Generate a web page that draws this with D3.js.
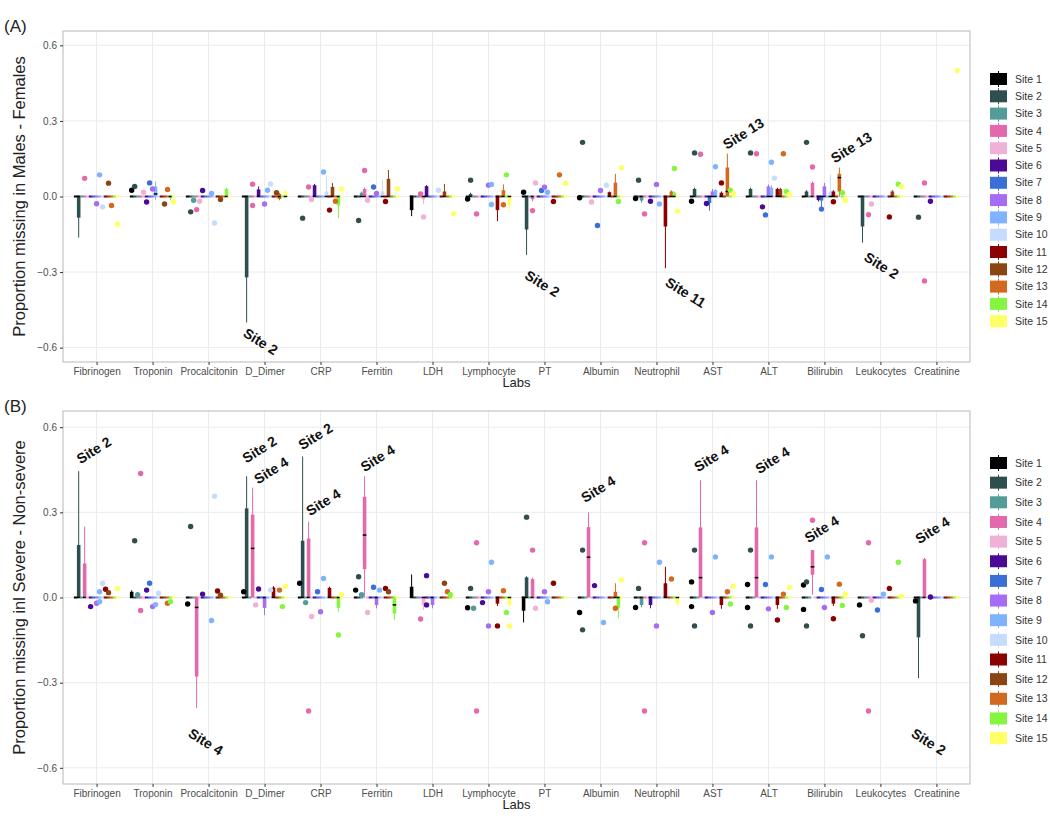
<!DOCTYPE html>
<html>
<head>
<meta charset="utf-8">
<script src="https://cdn.jsdelivr.net/npm/d3@7"></script>
<style>
  body { margin: 0; background: #fff; }
  svg text { font-family: "Liberation Sans", Arial, sans-serif; }
</style>
</head>
<body>
<svg id="chart" width="1050" height="831"></svg>
<script>
const labs = ['Fibrinogen', 'Troponin', 'Procalcitonin', 'D_Dimer', 'CRP', 'Ferritin', 'LDH',
  'Lymphocyte', 'PT', 'Albumin', 'Neutrophil', 'AST', 'ALT', 'Bilirubin', 'Leukocytes', 'Creatinine'];
const sites = d3.range(1, 16);
const siteColors = ['#000000', '#2f4f4f', '#539c99', '#e469ac', '#efb1d8', '#4b0a96', '#3b6fd8',
  '#a56cf5', '#80b3ff', '#c6dcff', '#8b0000', '#8b4513', '#d2691e', '#85f542', '#ffff66'];
const yTicks = [-0.6, -0.3, 0, 0.3, 0.6];

// boxes: [lab, site, lower whisker, q1, median, q3, upper whisker]
const boxesA = [
  ['Fibrinogen', 2, -0.163, -0.088, 0, 0, 0],
  ['Troponin', 9, -0.015, 0, 0.01, 0.04, 0.06],
  ['Troponin', 14, -0.015, -0.01, 0, 0, 0],
  ['Procalcitonin', 14, 0, 0, 0, 0.03, 0.035],
  ['D_Dimer', 2, -0.5, -0.325, 0, 0, 0],
  ['D_Dimer', 6, 0, 0, 0, 0.028, 0.04],
  ['D_Dimer', 13, -0.015, -0.01, 0, 0.01, 0.015],
  ['D_Dimer', 15, 0, 0, 0, 0.02, 0.025],
  ['CRP', 6, 0, 0, 0, 0.045, 0.05],
  ['CRP', 10, 0, 0, 0, 0.02, 0.085],
  ['CRP', 12, 0, 0, 0, 0.038, 0.054],
  ['CRP', 14, -0.085, -0.04, 0, 0, 0],
  ['Ferritin', 3, 0, 0, 0, 0.015, 0.02],
  ['Ferritin', 4, 0, 0, 0, 0.03, 0.035],
  ['Ferritin', 10, 0, 0, 0, 0.02, 0.067],
  ['Ferritin', 12, 0, 0, 0, 0.07, 0.105],
  ['LDH', 1, -0.078, -0.058, 0, 0, 0],
  ['LDH', 5, -0.03, -0.015, 0, 0, 0],
  ['LDH', 6, 0, 0, 0, 0.041, 0.045],
  ['LDH', 12, 0, 0, 0, 0.02, 0.05],
  ['Lymphocyte', 2, 0, 0, 0, 0.01, 0.015],
  ['Lymphocyte', 11, -0.098, -0.058, 0, 0, 0],
  ['Lymphocyte', 13, 0, 0, 0, 0.025, 0.048],
  ['Lymphocyte', 15, -0.058, -0.04, 0, 0, 0],
  ['PT', 2, -0.232, -0.135, 0, 0, 0],
  ['PT', 4, -0.02, -0.015, 0, 0, 0],
  ['Albumin', 11, 0, 0, 0, 0.017, 0.02],
  ['Albumin', 13, 0, 0, 0, 0.055, 0.09],
  ['Neutrophil', 3, -0.025, -0.02, 0, 0, 0],
  ['Neutrophil', 11, -0.285, -0.123, 0, 0, 0],
  ['Neutrophil', 13, 0, 0, 0, 0.02, 0.025],
  ['Neutrophil', 14, 0, 0, 0, 0.015, 0.02],
  ['AST', 2, 0, 0, 0, 0.03, 0.035],
  ['AST', 7, -0.056, -0.03, 0, 0, 0],
  ['AST', 8, 0, 0, 0, 0.02, 0.03],
  ['AST', 9, 0, 0, 0, 0.025, 0.03],
  ['AST', 11, 0, 0, 0, 0.015, 0.02],
  ['AST', 13, 0, 0, 0.02, 0.115, 0.17],
  ['ALT', 2, 0, 0, 0, 0.03, 0.035],
  ['ALT', 8, 0, 0, 0, 0.04, 0.048],
  ['ALT', 9, 0, 0, 0, 0.035, 0.045],
  ['ALT', 11, 0, 0, 0, 0.03, 0.035],
  ['ALT', 12, 0, 0, 0, 0.03, 0.035],
  ['Bilirubin', 2, 0, 0, 0, 0.02, 0.025],
  ['Bilirubin', 4, 0, 0, 0, 0.054, 0.06],
  ['Bilirubin', 6, -0.02, -0.018, 0, 0, 0],
  ['Bilirubin', 7, -0.056, -0.02, 0, 0, 0],
  ['Bilirubin', 8, 0, 0, 0, 0.04, 0.054],
  ['Bilirubin', 10, 0, 0, 0, 0.02, 0.087],
  ['Bilirubin', 11, 0, 0, 0, 0.02, 0.025],
  ['Bilirubin', 13, 0, 0.02, 0.075, 0.09, 0.115],
  ['Leukocytes', 2, -0.183, -0.123, 0, 0, 0],
  ['Leukocytes', 12, 0, 0, 0, 0.02, 0.025]
];

// outlier points: [lab, site, value]
const pointsA = [
  ['Fibrinogen', 4, 0.072], ['Fibrinogen', 9, 0.086], ['Fibrinogen', 8, -0.029], ['Fibrinogen', 10, -0.041],
  ['Fibrinogen', 12, 0.053], ['Fibrinogen', 13, -0.036], ['Fibrinogen', 15, -0.11],
  ['Troponin', 1, 0.025], ['Troponin', 2, 0.04], ['Troponin', 5, 0.017], ['Troponin', 7, 0.054],
  ['Troponin', 8, 0.03], ['Troponin', 6, -0.022], ['Troponin', 13, 0.028], ['Troponin', 12, -0.03],
  ['Troponin', 15, -0.022],
  ['Procalcitonin', 2, -0.061], ['Procalcitonin', 3, -0.015], ['Procalcitonin', 4, -0.052],
  ['Procalcitonin', 5, -0.019], ['Procalcitonin', 6, 0.024], ['Procalcitonin', 10, -0.105],
  ['Procalcitonin', 12, -0.012], ['Procalcitonin', 9, 0.012],
  ['D_Dimer', 4, 0.049], ['D_Dimer', 4, -0.036], ['D_Dimer', 8, -0.03], ['D_Dimer', 9, 0.025],
  ['D_Dimer', 10, 0.05], ['D_Dimer', 12, 0.015],
  ['CRP', 2, -0.086], ['CRP', 4, 0.038], ['CRP', 5, -0.012], ['CRP', 9, 0.097], ['CRP', 13, -0.019],
  ['CRP', 11, -0.054], ['CRP', 15, 0.03],
  ['Ferritin', 2, -0.095], ['Ferritin', 4, 0.103], ['Ferritin', 5, -0.015], ['Ferritin', 7, 0.038],
  ['Ferritin', 8, 0.012], ['Ferritin', 11, -0.02], ['Ferritin', 15, 0.03],
  ['LDH', 4, 0.01], ['LDH', 5, -0.081], ['LDH', 10, 0.025], ['LDH', 15, -0.068],
  ['Lymphocyte', 1, -0.01], ['Lymphocyte', 2, 0.065], ['Lymphocyte', 4, -0.069], ['Lymphocyte', 8, 0.045],
  ['Lymphocyte', 9, -0.032], ['Lymphocyte', 9, 0.048], ['Lymphocyte', 13, -0.033], ['Lymphocyte', 14, 0.086],
  ['PT', 1, 0.017], ['PT', 4, -0.056], ['PT', 5, 0.054], ['PT', 7, 0.024], ['PT', 8, 0.037], ['PT', 9, 0.017],
  ['PT', 11, -0.02], ['PT', 13, 0.086], ['PT', 15, 0.053],
  ['Albumin', 2, 0.215], ['Albumin', 1, -0.005], ['Albumin', 5, -0.022], ['Albumin', 7, -0.115],
  ['Albumin', 8, 0.024], ['Albumin', 10, 0.045], ['Albumin', 15, 0.114], ['Albumin', 14, -0.02],
  ['Neutrophil', 1, -0.008], ['Neutrophil', 2, 0.065], ['Neutrophil', 4, -0.069], ['Neutrophil', 6, -0.019],
  ['Neutrophil', 8, 0.048], ['Neutrophil', 9, -0.03], ['Neutrophil', 14, 0.111], ['Neutrophil', 15, -0.058],
  ['AST', 2, 0.173], ['AST', 4, 0.168], ['AST', 1, -0.019], ['AST', 6, -0.028], ['AST', 9, 0.118],
  ['AST', 11, 0.054], ['AST', 14, 0.025], ['AST', 15, 0.012],
  ['ALT', 2, 0.173], ['ALT', 4, 0.17], ['ALT', 6, -0.041], ['ALT', 7, -0.073], ['ALT', 9, 0.136],
  ['ALT', 10, 0.073], ['ALT', 13, 0.17], ['ALT', 14, 0.02], ['ALT', 15, 0.008],
  ['Bilirubin', 2, 0.215], ['Bilirubin', 4, 0.117], ['Bilirubin', 7, -0.05], ['Bilirubin', 11, -0.021],
  ['Bilirubin', 14, 0.015], ['Bilirubin', 15, -0.016],
  ['Leukocytes', 4, -0.072], ['Leukocytes', 5, -0.03], ['Leukocytes', 11, -0.081], ['Leukocytes', 14, 0.049],
  ['Leukocytes', 15, 0.04],
  ['Creatinine', 2, -0.082], ['Creatinine', 4, 0.054], ['Creatinine', 4, -0.335], ['Creatinine', 6, -0.019],
  ['Creatinine', 15, 0.5]
];

// notes: [lab position (index), value, text, angle]
const notesA = [
  [2.93, -0.576, 'Site 2', 32], [7.96, -0.346, 'Site 2', 32], [10.52, -0.381, 'Site 11', 32],
  [11.55, 0.25, 'Site 13', -32], [13.48, 0.195, 'Site 13', -32], [14.02, -0.274, 'Site 2', 32]
];

const boxesB = [
  ['Fibrinogen', 2, 0, 0, 0, 0.185, 0.445],
  ['Fibrinogen', 4, 0, 0, 0, 0.12, 0.25],
  ['Troponin', 1, 0, 0, 0, 0.02, 0.025],
  ['Procalcitonin', 4, -0.39, -0.282, -0.035, 0, 0],
  ['D_Dimer', 2, 0, 0, 0, 0.314, 0.427],
  ['D_Dimer', 4, 0, 0, 0.173, 0.292, 0.387],
  ['D_Dimer', 8, -0.062, -0.04, 0, 0, 0],
  ['D_Dimer', 11, 0, 0, 0, 0.035, 0.04],
  ['CRP', 2, 0, 0, 0, 0.2, 0.497],
  ['CRP', 4, 0, 0, 0, 0.208, 0.267],
  ['CRP', 11, 0, 0, 0, 0.034, 0.038],
  ['CRP', 14, -0.05, -0.04, 0, 0, 0],
  ['Ferritin', 4, 0, 0.1, 0.22, 0.355, 0.427],
  ['Ferritin', 8, -0.038, -0.03, 0, 0, 0],
  ['Ferritin', 14, -0.08, -0.06, -0.026, 0, 0],
  ['LDH', 1, 0, 0, 0, 0.038, 0.081],
  ['LDH', 5, -0.044, -0.03, 0, 0, 0],
  ['LDH', 8, -0.038, -0.03, 0, 0, 0],
  ['Lymphocyte', 11, -0.03, -0.025, 0, 0, 0],
  ['Lymphocyte', 15, -0.035, -0.03, 0, 0, 0],
  ['PT', 1, -0.088, -0.05, 0, 0, 0],
  ['PT', 2, 0, 0, 0, 0.071, 0.075],
  ['PT', 4, 0, 0, 0, 0.065, 0.07],
  ['Albumin', 4, 0, 0, 0.142, 0.248, 0.3],
  ['Albumin', 13, 0, 0, 0, 0.02, 0.05],
  ['Albumin', 14, -0.073, -0.04, 0, 0, 0],
  ['Neutrophil', 3, -0.035, -0.03, 0, 0, 0],
  ['Neutrophil', 6, -0.038, -0.03, 0, 0, 0],
  ['Neutrophil', 11, 0, 0, 0, 0.05, 0.108],
  ['Neutrophil', 15, -0.03, -0.025, 0, 0, 0],
  ['AST', 4, 0, 0, 0.07, 0.247, 0.413],
  ['AST', 11, -0.04, -0.03, 0, 0, 0],
  ['ALT', 4, 0, 0, 0.07, 0.247, 0.413],
  ['ALT', 11, -0.04, -0.03, 0, 0, 0],
  ['Bilirubin', 4, 0.01, 0.08, 0.108, 0.167, 0.167],
  ['Bilirubin', 11, -0.03, -0.025, 0, 0, 0],
  ['Creatinine', 2, -0.284, -0.144, 0, 0, 0],
  ['Creatinine', 4, 0, 0, 0, 0.135, 0.14]
];

const pointsB = [
  ['Fibrinogen', 6, -0.032], ['Fibrinogen', 8, -0.02], ['Fibrinogen', 9, -0.015], ['Fibrinogen', 10, 0.05],
  ['Fibrinogen', 9, 0.02], ['Fibrinogen', 11, 0.029], ['Fibrinogen', 12, 0.017], ['Fibrinogen', 15, 0.032],
  ['Troponin', 2, 0.2], ['Troponin', 3, 0.01], ['Troponin', 4, 0.437], ['Troponin', 4, -0.046],
  ['Troponin', 6, 0.026], ['Troponin', 7, 0.05], ['Troponin', 8, -0.032], ['Troponin', 9, -0.025],
  ['Troponin', 10, 0.015], ['Troponin', 13, -0.02], ['Troponin', 14, -0.015],
  ['Procalcitonin', 1, -0.023], ['Procalcitonin', 2, 0.25], ['Procalcitonin', 6, 0.012],
  ['Procalcitonin', 9, -0.081], ['Procalcitonin', 10, 0.357], ['Procalcitonin', 11, 0.023],
  ['Procalcitonin', 12, 0.008],
  ['D_Dimer', 1, 0.02], ['D_Dimer', 5, -0.026], ['D_Dimer', 6, 0.03], ['D_Dimer', 10, 0.026],
  ['D_Dimer', 13, 0.026], ['D_Dimer', 14, -0.032], ['D_Dimer', 15, 0.04],
  ['CRP', 1, 0.05], ['CRP', 3, -0.018], ['CRP', 5, -0.067], ['CRP', 4, -0.4], ['CRP', 7, 0.02],
  ['CRP', 8, -0.05], ['CRP', 9, 0.067], ['CRP', 14, -0.132], ['CRP', 15, 0.01],
  ['Ferritin', 1, 0.026], ['Ferritin', 2, 0.073], ['Ferritin', 3, 0.01], ['Ferritin', 5, -0.053],
  ['Ferritin', 7, 0.036], ['Ferritin', 9, 0.026], ['Ferritin', 11, 0.032], ['Ferritin', 12, 0.02],
  ['LDH', 4, -0.076], ['LDH', 6, 0.077], ['LDH', 6, -0.026], ['LDH', 12, 0.05], ['LDH', 13, 0.02],
  ['LDH', 14, 0.01],
  ['Lymphocyte', 1, -0.036], ['Lymphocyte', 2, 0.032], ['Lymphocyte', 3, -0.038], ['Lymphocyte', 4, 0.193],
  ['Lymphocyte', 4, -0.4], ['Lymphocyte', 6, -0.018], ['Lymphocyte', 9, 0.124], ['Lymphocyte', 8, -0.1],
  ['Lymphocyte', 8, 0.02], ['Lymphocyte', 11, -0.1], ['Lymphocyte', 13, 0.024], ['Lymphocyte', 14, -0.053],
  ['Lymphocyte', 15, -0.1],
  ['PT', 2, 0.283], ['PT', 4, 0.167], ['PT', 5, -0.038], ['PT', 8, 0.02], ['PT', 9, -0.015], ['PT', 11, 0.05],
  ['Albumin', 1, -0.053], ['Albumin', 2, 0.167], ['Albumin', 2, -0.114], ['Albumin', 6, 0.042],
  ['Albumin', 9, -0.088], ['Albumin', 13, -0.038], ['Albumin', 15, 0.062],
  ['Neutrophil', 1, -0.035], ['Neutrophil', 2, 0.032], ['Neutrophil', 4, 0.193], ['Neutrophil', 4, -0.4],
  ['Neutrophil', 8, -0.1], ['Neutrophil', 9, 0.124], ['Neutrophil', 13, 0.065],
  ['AST', 1, 0.055], ['AST', 1, -0.032], ['AST', 2, 0.167], ['AST', 2, -0.1], ['AST', 8, -0.053],
  ['AST', 9, 0.143], ['AST', 13, 0.02], ['AST', 14, -0.023], ['AST', 15, 0.04],
  ['ALT', 1, 0.046], ['ALT', 1, -0.035], ['ALT', 2, 0.167], ['ALT', 2, -0.1], ['ALT', 7, 0.046],
  ['ALT', 8, -0.04], ['ALT', 9, 0.143], ['ALT', 11, -0.079], ['ALT', 13, 0.012], ['ALT', 14, -0.035],
  ['ALT', 15, 0.035],
  ['Bilirubin', 1, 0.044], ['Bilirubin', 1, -0.042], ['Bilirubin', 2, 0.055], ['Bilirubin', 2, -0.1],
  ['Bilirubin', 4, 0.272], ['Bilirubin', 7, 0.028], ['Bilirubin', 9, 0.143], ['Bilirubin', 8, -0.035],
  ['Bilirubin', 11, -0.075], ['Bilirubin', 13, 0.047], ['Bilirubin', 14, -0.028], ['Bilirubin', 15, 0.012],
  ['Leukocytes', 1, -0.026], ['Leukocytes', 2, -0.135], ['Leukocytes', 4, 0.193], ['Leukocytes', 4, -0.4],
  ['Leukocytes', 5, -0.01], ['Leukocytes', 7, -0.044], ['Leukocytes', 9, 0.012], ['Leukocytes', 11, 0.032],
  ['Leukocytes', 14, 0.124], ['Leukocytes', 15, 0.005],
  ['Creatinine', 1, -0.012], ['Creatinine', 6, 0.002]
];

const notesB = [
  [-0.05, 0.519, 'Site 2', -32], [2.91, 0.522, 'Site 2', -32], [3.12, 0.448, 'Site 4', -32],
  [3.91, 0.568, 'Site 2', -32], [4.05, 0.336, 'Site 4', -32], [5.02, 0.491, 'Site 4', -32],
  [8.96, 0.382, 'Site 4', -32], [10.98, 0.491, 'Site 4', -32], [12.07, 0.484, 'Site 4', -32],
  [12.95, 0.241, 'Site 4', -32], [14.93, 0.237, 'Site 4', -32],
  [1.95, -0.508, 'Site 4', 32], [14.86, -0.508, 'Site 2', 32]
];

const svg = d3.select('#chart');
const left = 63, right = 970;
const x = d3.scalePoint().domain(labs).range([left, right]).padding(0.6);
const dodge = d3.scaleBand().domain(sites).range([-0.4 * x.step(), 0.4 * x.step()]);
const xIdx = d3.scaleLinear().domain([0, labs.length - 1]).range([x(labs[0]), x(labs[labs.length - 1])]);
const color = d3.scaleOrdinal().domain(sites).range(siteColors);

const panel = (opts) => {
  const { top, bottom, boxes, points, notes, yTitle, tag, legendTop, legendStep } = opts;
  const y = d3.scaleLinear().domain([-0.657, 0.657]).range([bottom, top]);
  const g = svg.append('g');

  // grid
  g.selectAll('.hgrid').data(yTicks).enter().append('line')
    .attr('x1', left).attr('x2', right)
    .attr('y1', d => y(d)).attr('y2', d => y(d))
    .attr('stroke', '#ebebeb').attr('stroke-width', 1);
  g.selectAll('.vgrid').data(labs).enter().append('line')
    .attr('x1', d => x(d)).attr('x2', d => x(d))
    .attr('y1', top).attr('y2', bottom)
    .attr('stroke', '#ebebeb').attr('stroke-width', 1);

  // boxes, one per lab x site
  const boxMap = new Map(boxes.map(b => [b[0] + '|' + b[1], b]));
  const cells = [];
  labs.forEach(lab => sites.forEach(s => {
    cells.push(boxMap.get(lab + '|' + s) || [lab, s, 0, 0, 0, 0, 0]);
  }));
  const bw = dodge.bandwidth() + 0.6;
  const cx = d => x(d[0]) + dodge(d[1]) + dodge.bandwidth() / 2;

  const cell = g.selectAll('.cell').data(cells).enter().append('g');
  cell.append('line')
    .attr('x1', cx).attr('x2', cx)
    .attr('y1', d => y(d[6])).attr('y2', d => y(d[2]))
    .attr('stroke', d => color(d[1])).attr('stroke-width', 1);
  cell.append('rect')
    .attr('x', d => cx(d) - bw / 2).attr('width', bw)
    .attr('y', d => Math.min(y(d[5]), y(0) - 1))
    .attr('height', d => Math.max(y(d[3]) - y(d[5]), 2))
    .attr('fill', d => color(d[1]));
  cell.filter(d => d[5] !== d[3]).append('line')
    .attr('x1', d => cx(d) - bw / 2).attr('x2', d => cx(d) + bw / 2)
    .attr('y1', d => y(d[4])).attr('y2', d => y(d[4]))
    .attr('stroke', '#000').attr('stroke-width', 1.5);

  // outliers
  g.selectAll('.pt').data(points).enter().append('circle')
    .attr('cx', cx).attr('cy', d => y(d[2])).attr('r', 2.7)
    .attr('fill', d => color(d[1]));

  // border
  g.append('rect').attr('x', left).attr('y', top)
    .attr('width', right - left).attr('height', bottom - top)
    .attr('fill', 'none').attr('stroke', '#b8b8b8').attr('stroke-width', 1);

  // y axis
  const yAxisG = g.append('g').attr('transform', `translate(${left},0)`)
    .call(d3.axisLeft(y).tickValues(yTicks).tickFormat(d3.format('.1f')).tickSize(3).tickPadding(3));
  yAxisG.select('.domain').remove();
  yAxisG.selectAll('line').attr('stroke', '#333');
  yAxisG.selectAll('text').attr('fill', '#4d4d4d').style('font-size', '10px')
    .style('font-family', '"Liberation Sans", Arial, sans-serif');

  // x axis
  const xAxisG = g.append('g').attr('transform', `translate(0,${bottom})`)
    .call(d3.axisBottom(x).tickSize(3).tickPadding(3));
  xAxisG.select('.domain').remove();
  xAxisG.selectAll('line').attr('stroke', '#333');
  xAxisG.selectAll('text').attr('fill', '#4d4d4d').style('font-size', '10px')
    .style('font-family', '"Liberation Sans", Arial, sans-serif');

  g.append('text').attr('x', (left + right) / 2).attr('y', bottom + 25)
    .attr('text-anchor', 'middle').attr('font-size', 13).attr('fill', '#222').text('Labs');
  g.append('text')
    .attr('transform', `translate(25,${(top + bottom) / 2}) rotate(-90)`)
    .attr('text-anchor', 'middle').attr('font-size', 16.5).attr('fill', '#222').text(yTitle);
  g.append('text').attr('x', 4).attr('y', top + 1)
    .attr('font-size', 17).attr('fill', '#222').text(tag);

  // annotations
  g.selectAll('.note').data(notes).enter().append('text')
    .attr('transform', d => `translate(${xIdx(d[0])},${y(d[1])}) rotate(${d[3]})`)
    .attr('text-anchor', 'middle').attr('dy', '0.35em')
    .attr('font-size', 14).attr('font-weight', 'bold').attr('fill', '#111')
    .text(d => d[2]);

  // legend
  const leg = g.selectAll('.leg').data(sites).enter().append('g')
    .attr('transform', (d, i) => `translate(990,${legendTop + i * legendStep})`);
  leg.append('line').attr('x1', 8.5).attr('x2', 8.5).attr('y1', -8).attr('y2', 8)
    .attr('stroke', d => color(d)).attr('stroke-width', 1);
  leg.append('rect').attr('x', 0).attr('y', -6).attr('width', 17).attr('height', 12)
    .attr('fill', d => color(d));
  leg.append('text').attr('x', 25).attr('dy', '0.35em')
    .attr('font-size', 10.5).attr('fill', '#333').text(d => 'Site ' + d);
};

panel({ top: 31, bottom: 362, boxes: boxesA, points: pointsA, notes: notesA,
  yTitle: 'Proportion missing in Males - Females', tag: '(A)', legendTop: 79, legendStep: 17.3 });
panel({ top: 411, bottom: 784, boxes: boxesB, points: pointsB, notes: notesB,
  yTitle: 'Proportion missing inl Severe - Non-severe', tag: '(B)', legendTop: 463, legendStep: 19.65 });
</script>
</body>
</html>
